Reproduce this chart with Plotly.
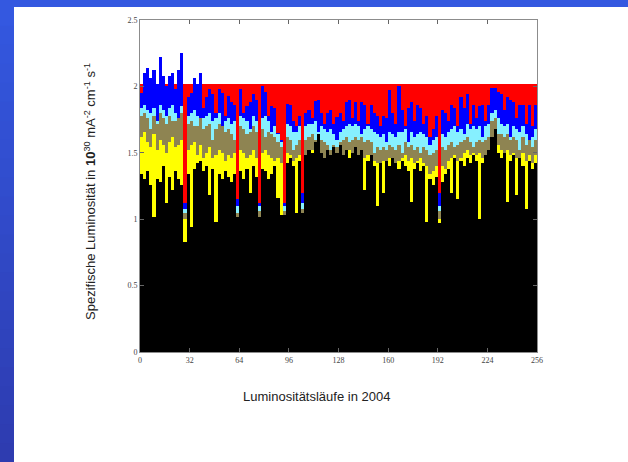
import plotly.graph_objects as go

# Specific luminosity per luminosity run (2004), runs grouped in pairs
run_centres = list(range(1, 256, 2))

design_level = 2.02

lumi_blue = [
    1.95, 2.10, 2.14, 2.06, 2.12, 2.02, 2.22, 2.08, 2.00, 2.08, 2.10, 1.98, 2.12, 2.25, 1.12, 1.92,
    1.95, 2.06, 2.02, 2.10, 1.84, 1.92, 1.98, 1.94, 1.80, 1.98, 1.95, 1.78, 1.93, 1.88, 1.86, 1.15,
    1.98, 1.80, 1.85, 1.88, 1.94, 1.90, 1.12, 2.00, 1.96, 1.78, 1.85, 1.84, 1.65, 1.60, 1.12, 1.87,
    1.86, 1.74, 1.70, 1.78, 1.20, 1.80, 1.82, 1.76, 1.89, 1.90, 1.80, 1.72, 1.80, 1.82, 1.72, 1.77,
    1.80, 1.74, 1.88, 1.90, 1.76, 1.88, 1.74, 1.88, 1.86, 1.72, 1.86, 1.80, 1.78, 1.70, 1.78, 1.76,
    1.97, 1.80, 1.72, 2.00, 1.82, 1.70, 1.84, 1.88, 1.74, 1.86, 1.84, 1.72, 1.78, 1.62, 1.68, 1.78,
    1.20, 1.82, 1.80, 1.74, 1.86, 1.84, 1.70, 1.92, 1.84, 1.94, 1.72, 1.86, 1.76, 1.85, 1.86, 1.74,
    1.86, 1.99, 1.99, 1.96, 1.94, 1.82, 1.92, 1.90, 1.88, 1.76, 1.86, 1.86, 1.72, 1.86, 1.70, 1.86,
]

lumi_cyan = [
    1.84, 1.86, 1.82, 1.80, 1.84, 1.74, 1.86, 1.82, 1.78, 1.84, 1.86, 1.80, 1.76, 1.85, 1.08, 1.78,
    1.80, 1.82, 1.78, 1.72, 1.76, 1.78, 1.80, 1.74, 1.76, 1.80, 1.70, 1.74, 1.76, 1.72, 1.74, 1.10,
    1.78, 1.76, 1.74, 1.68, 1.78, 1.74, 1.10, 1.76, 1.78, 1.74, 1.66, 1.70, 1.64, 1.58, 1.10, 1.72,
    1.70, 1.66, 1.66, 1.70, 1.12, 1.70, 1.72, 1.72, 1.74, 1.66, 1.70, 1.68, 1.66, 1.68, 1.64, 1.60,
    1.66, 1.68, 1.70, 1.72, 1.70, 1.72, 1.70, 1.64, 1.68, 1.70, 1.68, 1.66, 1.64, 1.62, 1.64, 1.58,
    1.66, 1.64, 1.62, 1.66, 1.66, 1.68, 1.58, 1.66, 1.62, 1.64, 1.66, 1.64, 1.62, 1.56, 1.60, 1.62,
    1.10, 1.64, 1.62, 1.66, 1.68, 1.70, 1.66, 1.68, 1.64, 1.72, 1.68, 1.70, 1.68, 1.70, 1.62, 1.70,
    1.72, 1.80, 1.82, 1.76, 1.72, 1.70, 1.72, 1.62, 1.70, 1.68, 1.66, 1.70, 1.64, 1.60, 1.62, 1.68,
]

lumi_olive = [
    1.78, 1.80, 1.76, 1.68, 1.78, 1.72, 1.80, 1.76, 1.72, 1.78, 1.74, 1.74, 1.76, 1.80, 1.05, 1.72,
    1.74, 1.70, 1.70, 1.76, 1.68, 1.70, 1.72, 1.60, 1.68, 1.72, 1.70, 1.66, 1.68, 1.64, 1.60, 1.05,
    1.70, 1.68, 1.64, 1.66, 1.70, 1.66, 1.06, 1.68, 1.62, 1.66, 1.64, 1.62, 1.58, 1.54, 1.06, 1.62,
    1.60, 1.52, 1.56, 1.60, 1.08, 1.60, 1.62, 1.64, 1.60, 1.64, 1.60, 1.58, 1.56, 1.52, 1.56, 1.54,
    1.58, 1.60, 1.62, 1.58, 1.60, 1.62, 1.60, 1.62, 1.58, 1.60, 1.58, 1.50, 1.54, 1.52, 1.54, 1.52,
    1.56, 1.54, 1.52, 1.56, 1.50, 1.58, 1.54, 1.56, 1.52, 1.54, 1.50, 1.54, 1.52, 1.48, 1.50, 1.52,
    1.06, 1.54, 1.52, 1.56, 1.58, 1.54, 1.56, 1.58, 1.60, 1.62, 1.58, 1.54, 1.58, 1.60, 1.58, 1.60,
    1.62, 1.74, 1.76, 1.64, 1.64, 1.62, 1.64, 1.60, 1.62, 1.60, 1.52, 1.62, 1.56, 1.60, 1.54, 1.60,
]

lumi_yellow = [
    1.62, 1.66, 1.58, 1.54, 1.64, 1.52, 1.60, 1.56, 1.50, 1.58, 1.62, 1.54, 1.56, 1.60, 1.00, 1.52,
    1.56, 1.58, 1.48, 1.56, 1.46, 1.50, 1.54, 1.46, 1.48, 1.52, 1.50, 1.44, 1.48, 1.46, 1.50, 1.02,
    1.52, 1.50, 1.46, 1.48, 1.52, 1.46, 1.02, 1.50, 1.52, 1.48, 1.46, 1.44, 1.46, 1.42, 1.03, 1.50,
    1.48, 1.44, 1.46, 1.48, 1.05, 1.48, 1.50, 1.52, 1.54, 1.50, 1.46, 1.44, 1.46, 1.48, 1.44, 1.42,
    1.46, 1.48, 1.50, 1.52, 1.48, 1.50, 1.48, 1.50, 1.46, 1.48, 1.46, 1.44, 1.42, 1.40, 1.44, 1.42,
    1.46, 1.44, 1.40, 1.44, 1.46, 1.48, 1.44, 1.46, 1.42, 1.44, 1.46, 1.42, 1.40, 1.34, 1.36, 1.40,
    1.00, 1.40, 1.38, 1.44, 1.46, 1.48, 1.44, 1.46, 1.50, 1.52, 1.48, 1.50, 1.48, 1.50, 1.46, 1.48,
    1.52, 1.60, 1.62, 1.56, 1.52, 1.50, 1.52, 1.48, 1.50, 1.46, 1.44, 1.50, 1.44, 1.48, 1.42, 1.48,
]

lumi_black = [
    1.34, 1.30, 1.36, 1.26, 1.02, 1.30, 1.28, 1.40, 1.12, 1.32, 1.22, 1.36, 1.30, 1.26, 0.83, 1.34,
    0.94, 1.38, 1.42, 1.44, 1.36, 1.40, 1.18, 1.38, 0.98, 1.34, 1.30, 1.36, 1.32, 1.28, 1.34, 1.02,
    1.36, 1.30, 1.38, 1.20, 1.40, 1.32, 1.02, 1.38, 1.36, 1.30, 1.34, 1.40, 1.16, 1.03, 1.03, 1.42,
    1.46, 1.40, 1.05, 1.44, 1.05, 1.48, 1.52, 1.50, 1.58, 1.64, 1.50, 1.46, 1.52, 1.48, 1.54, 1.50,
    1.56, 1.48, 1.52, 1.46, 1.50, 1.54, 1.48, 1.52, 1.22, 1.44, 1.48, 1.40, 1.10, 1.42, 1.20, 1.44,
    1.40, 1.46, 1.42, 1.38, 1.44, 1.40, 1.36, 1.13, 1.38, 1.42, 1.36, 1.40, 0.98, 1.30, 1.26, 1.32,
    0.97, 1.28, 1.34, 1.38, 1.20, 1.46, 1.15, 1.44, 1.40, 1.46, 1.42, 1.48, 1.44, 1.00, 1.42, 1.48,
    1.52, 1.62, 1.68, 1.50, 1.46, 1.50, 1.13, 1.44, 1.48, 1.18, 1.46, 1.40, 1.08, 1.44, 1.38, 1.42,
]

x_ticks = [0, 32, 64, 96, 128, 160, 192, 224, 256]
y_ticks = [0, 0.5, 1, 1.5, 2, 2.5]
y_tick_text = ["0", "0.5", "1", "1.5", "2", "2.5"]

W, H = 628, 462
L, R, T, B = 140, 91, 20, 110
PW, PH = W - L - R, H - T - B


def px_x(p):
    return (p - L) / PW


def px_y(p):
    return (H - B - p) / PH


fig = go.Figure()

# design level in red behind all measured series
fig.add_bar(x=[128], y=[design_level], width=[256],
            marker=dict(color="#ff0000", line=dict(width=0)), hoverinfo="skip")

series = [
    (lumi_blue, "#0000ff"),
    (lumi_cyan, "#86f0ff"),
    (lumi_olive, "#8e8452"),
    (lumi_yellow, "#ffff00"),
    (lumi_black, "#000000"),
]
for vals, color in series:
    fig.add_bar(x=run_centres, y=vals, width=2,
                marker=dict(color=color, line=dict(width=0)))

# slide frame: blue strip on top and a darkening blue strip on the left
shapes = [dict(type="rect", xref="paper", yref="paper",
               x0=px_x(0), x1=px_x(W + 5), y0=px_y(7), y1=px_y(-5),
               fillcolor="#3458e0", line=dict(width=0), layer="below")]
n = 24
for k in range(n):
    t = k / (n - 1)
    r = int(0x34 + (0x2e - 0x34) * t)
    g = int(0x58 + (0x3c - 0x58) * t)
    b = int(0xe0 + (0xb0 - 0xe0) * t)
    y_top = 7 + (H - 7) * k / n
    y_bot = 7 + (H - 7) * (k + 1) / n + 1
    shapes.append(dict(type="rect", xref="paper", yref="paper",
                       x0=px_x(-5), x1=px_x(14), y0=px_y(y_bot), y1=px_y(y_top),
                       fillcolor=f"rgb({r},{g},{b})", line=dict(width=0), layer="below"))

tick_font = dict(family="Liberation Serif, Times New Roman, serif", size=8, color="#444")
label_font = dict(family="Liberation Sans, Arial, sans-serif", size=13, color="#222")

fig.update_layout(
    width=W, height=H, autosize=False,
    margin=dict(l=L, r=R, t=T, b=B, pad=0),
    paper_bgcolor="white", plot_bgcolor="white",
    barmode="overlay", bargap=0, showlegend=False,
    shapes=shapes,
    xaxis=dict(range=[0, 256], tickvals=x_ticks, ticks="inside", ticklen=4,
               tickcolor="#666", showline=True, linecolor="#8c8c8c", linewidth=1,
               mirror="ticks", showgrid=False, zeroline=False, tickfont=tick_font),
    yaxis=dict(range=[0, 2.5], tickvals=y_ticks, ticktext=y_tick_text, ticks="inside",
               ticklen=4, tickcolor="#666", showline=True, linecolor="#8c8c8c",
               linewidth=1, mirror="ticks", showgrid=False, zeroline=False,
               tickfont=tick_font),
    annotations=[
        dict(text="Luminositätsläufe in 2004", xref="paper", yref="paper",
             x=px_x(316), y=px_y(396), showarrow=False, font=label_font,
             xanchor="center", yanchor="middle"),
        dict(text="Spezifische Luminosität in <b>10</b><sup>30</sup> mA<sup>-2</sup> cm<sup>-1</sup> s<sup>-1</sup>",
             xref="paper", yref="paper", x=px_x(90), y=px_y(192), textangle=-90,
             showarrow=False, font=label_font, xanchor="center", yanchor="middle"),
    ],
)

fig.write_html("out.html")
